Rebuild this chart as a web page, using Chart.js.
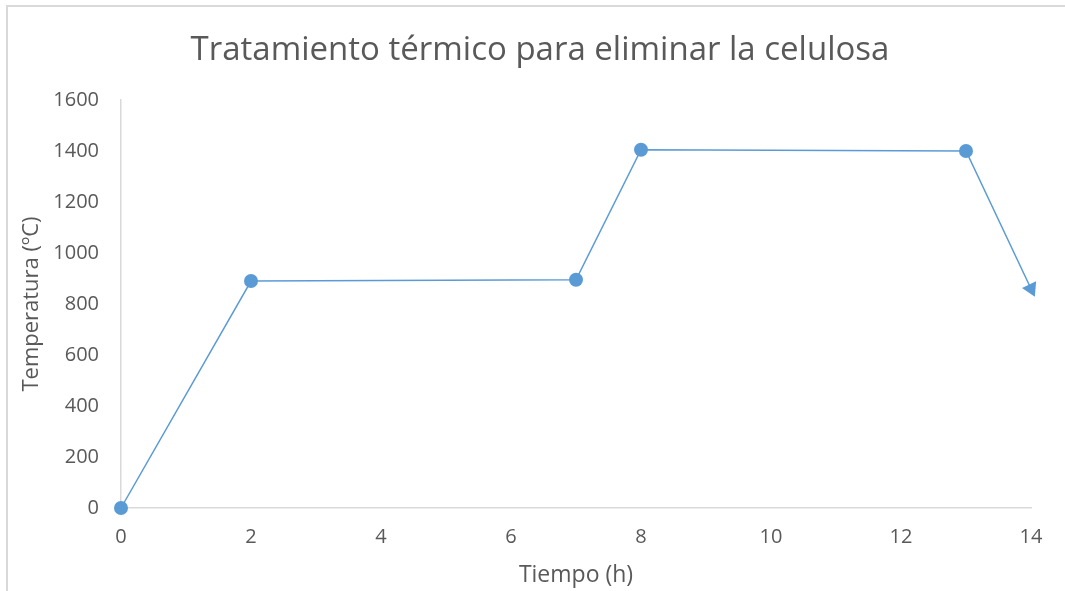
<!DOCTYPE html>
<html>
<head>
<meta charset="utf-8">
<script src="https://cdn.jsdelivr.net/npm/chart.js@4"></script>
<style>
  html, body { margin: 0; padding: 0; background: #fff; overflow: hidden; }
  canvas { display: block; }
</style>
</head>
<body>
<canvas id="c" width="1065" height="591"></canvas>
<script>
// Heating schedule: time in hours, temperature in ºC
const tiempo = [0, 2, 7, 8, 13, 14];
const temperatura = [0, 890, 895, 1405, 1400, 860];
const marcadores = ['circle', 'circle', 'circle', 'circle', 'circle', 'triangle'];
const tituloGrafico = 'Tratamiento térmico para eliminar la celulosa';
const tituloX = 'Tiempo (h)';
const tituloY = 'Temperatura (ºC)';

const puntos = tiempo.map((t, i) => ({ x: t, y: temperatura[i] }));
const azul = '#5b9bd5';
const gris = '#595959';
const fuente = '"Open Sans", "Noto Sans", sans-serif';

// Orient the final arrowhead along the last segment, in screen space
function rotacionFlecha(ctx) {
  const i = ctx.dataIndex;
  if (i !== puntos.length - 1) return 0;
  const chart = ctx.chart;
  const sx = chart.scales.x, sy = chart.scales.y;
  const a = puntos[i - 1], b = puntos[i];
  const dx = sx.getPixelForValue(b.x) - sx.getPixelForValue(a.x);
  const dy = sy.getPixelForValue(b.y) - sy.getPixelForValue(a.y);
  return Math.atan2(dy, dx) * 180 / Math.PI + 90;
}

// Chart frame (top and left edges) and the centred heading
const marco = {
  id: 'marco',
  beforeDraw(chart) {
    const c = chart.ctx;
    c.save();
    c.fillStyle = '#fff';
    c.fillRect(0, 0, chart.width, chart.height);
    c.strokeStyle = '#d9d9d9';
    c.lineWidth = 2;
    c.beginPath();
    c.moveTo(7, chart.height);
    c.lineTo(7, 6);
    c.lineTo(chart.width, 6);
    c.stroke();
    c.fillStyle = gris;
    c.font = '33px ' + fuente;
    c.textAlign = 'center';
    c.textBaseline = 'middle';
    c.fillText(tituloGrafico, 540, 51);
    c.restore();
  }
};

new Chart(document.getElementById('c'), {
  type: 'scatter',
  data: {
    datasets: [{
      data: puntos,
      showLine: true,
      clip: false,
      borderColor: azul,
      borderWidth: 1.5,
      backgroundColor: azul,
      pointBackgroundColor: azul,
      pointBorderColor: azul,
      pointBorderWidth: 0,
      pointStyle: marcadores,
      pointRadius: marcadores.map(m => m === 'triangle' ? 9 : 7),
      pointRotation: rotacionFlecha,
      tension: 0
    }]
  },
  plugins: [marco],
  options: {
    responsive: false,
    animation: false,
    events: [],
    layout: { padding: { left: 10, right: 34, top: 100, bottom: 0 } },
    plugins: {
      legend: { display: false },
      tooltip: { enabled: false },
      title: { display: false }
    },
    scales: {
      x: {
        type: 'linear',
        min: 0, max: 14,
        ticks: { stepSize: 2, color: gris, padding: 17,
                 font: { family: fuente, size: 20 },
                 callback: v => String(v) },
        grid: { display: false, drawTicks: false },
        border: { display: true, color: '#d9d9d9', width: 1.5 },
        title: { display: true, text: tituloX, color: gris,
                 font: { family: fuente, size: 23 }, padding: { top: 0, bottom: 2 } },
        afterFit: s => { s.height = 83; }
      },
      y: {
        type: 'linear',
        min: 0, max: 1600,
        ticks: { stepSize: 200, color: gris, padding: 22,
                 font: { family: fuente, size: 20 },
                 callback: v => String(v) },
        grid: { display: false, drawTicks: false },
        border: { display: true, color: '#d9d9d9', width: 1.5 },
        title: { display: true, text: tituloY, color: gris,
                 font: { family: fuente, size: 22 }, padding: { top: 9, bottom: 0 } },
        afterFit: s => { s.width = 111; }
      }
    }
  }
});
</script>
</body>
</html>
